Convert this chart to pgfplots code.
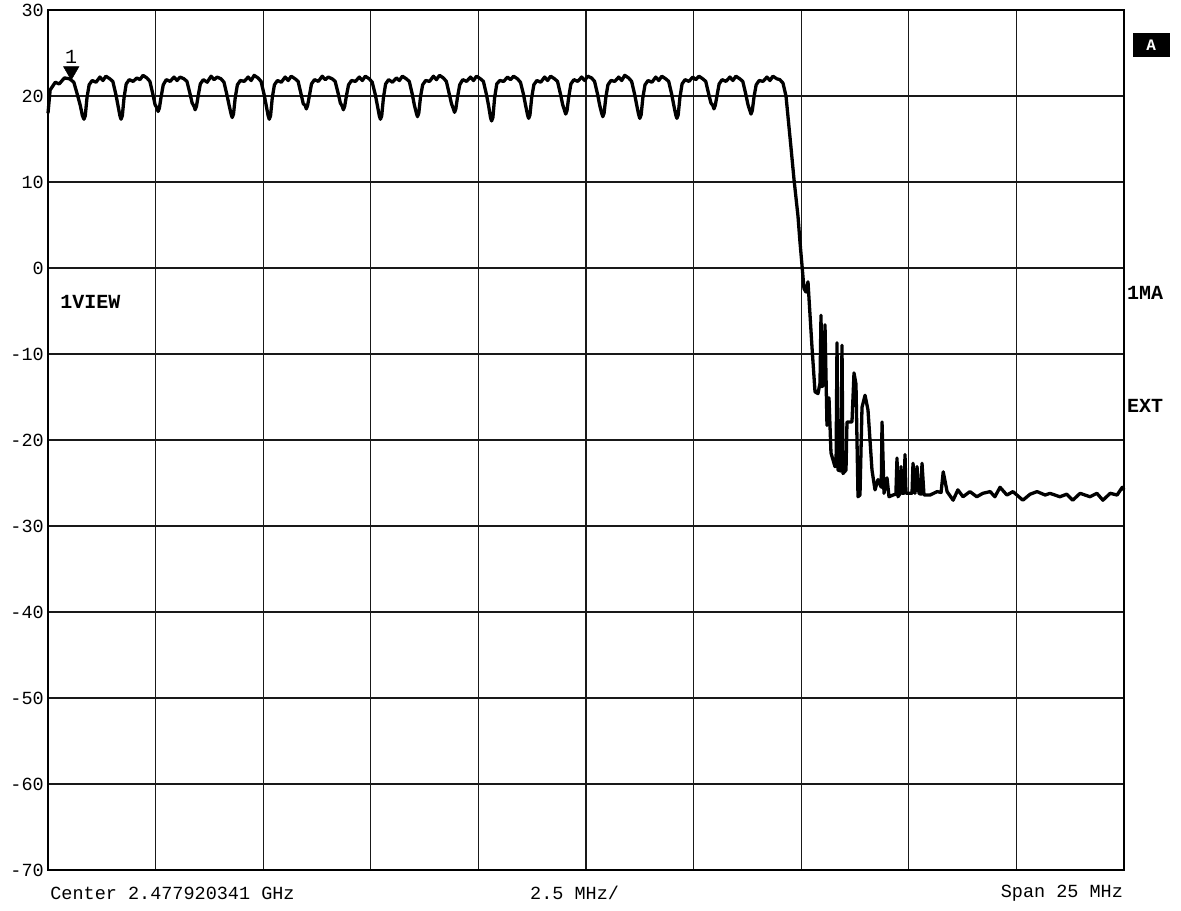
\documentclass[border=0pt]{standalone}
\usepackage{pgfplots}
\pgfplotsset{compat=1.18}
\usepackage{fontspec}
\setmainfont{Liberation Mono}
\newcommand{\tickfont}{\fontsize{18.5bp}{20bp}\selectfont}
\newcommand{\boldlab}{\fontsize{20bp}{21bp}\selectfont\bfseries}
\begin{document}
\begin{tikzpicture}
\path[use as bounding box] (-48bp,-41bp) rectangle (1133bp,870bp);
\begin{axis}[
  at={(0,0)}, anchor=south west,
  scale only axis, width=1076bp, height=860bp,
  xmin=-12.5, xmax=12.5, ymin=-70, ymax=30,
  xtick={-12.5,-10,-7.5,-5,-2.5,0,2.5,5,7.5,10,12.5}, xticklabels={},
  ytick={-70,-60,-50,-40,-30,-20,-10,0,10,20,30},
  yticklabels={-70,-60,-50,-40,-30,-20,-10,0,10,20,30},
  grid=major, grid style={black!90, line width=1.3bp},
  major tick length=0pt,
  axis line style={line width=2.6bp},
  yticklabel style={font=\tickfont, inner sep=0pt, xshift=-4bp},
  clip=false,
]
\addplot[black, line width=3.3bp, line join=round] coordinates {
(-12.5,18.0) (-12.45,20.7) (-12.33,21.6) (-12.24,21.4) (-12.12,22.1) (-12.0,22.0) (-11.9,21.6) (-11.82,20.2) (-11.75,18.9) (-11.70,17.7)
(-11.664,17.3) (-11.634,17.7) (-11.594,19.8) (-11.544,21.3) (-11.474,21.8) (-11.384,21.6) (-11.294,22.2) (-11.224,21.8) (-11.154,22.3) (-11.064,22.0) (-10.994,21.7) (-10.924,20.2) (-10.874,18.9) (-10.829,17.7)
(-10.803,17.3) (-10.773,17.7) (-10.733,19.8) (-10.683,21.4) (-10.613,21.9) (-10.523,21.7) (-10.433,22.1) (-10.363,21.9) (-10.293,22.4) (-10.203,22.1) (-10.133,21.7) (-10.063,20.2) (-10.013,19.0) (-9.968,18.6)
(-9.942,18.2) (-9.912,18.6) (-9.872,19.9) (-9.822,21.3) (-9.752,21.9) (-9.662,21.7) (-9.572,22.2) (-9.502,21.8) (-9.432,22.2) (-9.342,22.0) (-9.272,21.7) (-9.202,20.3) (-9.152,19.2) (-9.107,18.8)
(-9.081,18.4) (-9.051,18.8) (-9.011,20.0) (-8.961,21.4) (-8.891,21.9) (-8.801,21.6) (-8.711,22.3) (-8.641,21.9) (-8.571,22.2) (-8.481,22.0) (-8.411,21.6) (-8.341,20.1) (-8.291,18.9) (-8.246,17.9)
(-8.220,17.5) (-8.190,17.9) (-8.150,19.8) (-8.100,21.3) (-8.030,21.8) (-7.940,21.7) (-7.850,22.2) (-7.780,21.8) (-7.710,22.4) (-7.620,22.1) (-7.550,21.7) (-7.480,20.2) (-7.430,18.9) (-7.385,17.7)
(-7.359,17.3) (-7.329,17.7) (-7.289,19.8) (-7.239,21.3) (-7.169,21.8) (-7.079,21.6) (-6.989,22.2) (-6.919,21.8) (-6.849,22.3) (-6.759,22.0) (-6.689,21.7) (-6.619,20.2) (-6.569,19.1) (-6.524,18.9)
(-6.498,18.5) (-6.468,18.9) (-6.428,20.0) (-6.378,21.4) (-6.308,21.9) (-6.218,21.7) (-6.128,22.3) (-6.058,21.9) (-5.988,22.2) (-5.898,22.0) (-5.828,21.7) (-5.758,20.3) (-5.708,19.2) (-5.663,18.8)
(-5.637,18.4) (-5.607,18.8) (-5.567,20.0) (-5.517,21.3) (-5.447,21.8) (-5.357,21.7) (-5.267,22.2) (-5.197,21.8) (-5.127,22.3) (-5.037,22.0) (-4.967,21.6) (-4.897,20.2) (-4.847,18.9) (-4.802,17.7)
(-4.776,17.3) (-4.746,17.7) (-4.706,19.8) (-4.656,21.4) (-4.586,21.9) (-4.496,21.6) (-4.406,22.1) (-4.336,21.8) (-4.266,22.3) (-4.176,22.0) (-4.106,21.7) (-4.036,20.2) (-3.986,18.9) (-3.941,18.0)
(-3.915,17.6) (-3.885,18.0) (-3.845,19.9) (-3.795,21.3) (-3.725,21.8) (-3.635,21.7) (-3.545,22.3) (-3.475,21.9) (-3.405,22.4) (-3.315,22.1) (-3.245,21.7) (-3.175,20.2) (-3.125,19.1) (-3.080,18.5)
(-3.054,18.1) (-3.024,18.5) (-2.984,19.9) (-2.934,21.3) (-2.864,21.9) (-2.774,21.7) (-2.684,22.2) (-2.614,21.8) (-2.544,22.3) (-2.454,22.0) (-2.384,21.7) (-2.314,20.2) (-2.264,18.9) (-2.219,17.5)
(-2.193,17.1) (-2.163,17.5) (-2.123,19.8) (-2.073,21.4) (-2.003,21.8) (-1.913,21.7) (-1.823,22.2) (-1.753,21.9) (-1.683,22.3) (-1.593,22.0) (-1.523,21.6) (-1.453,20.2) (-1.403,18.9) (-1.358,17.8)
(-1.332,17.4) (-1.302,17.8) (-1.262,19.8) (-1.212,21.3) (-1.142,21.8) (-1.052,21.6) (-0.962,22.2) (-0.892,21.8) (-0.822,22.3) (-0.732,22.0) (-0.662,21.7) (-0.592,20.2) (-0.542,19.0) (-0.497,18.3)
(-0.471,17.9) (-0.441,18.3) (-0.401,19.9) (-0.351,21.4) (-0.281,21.9) (-0.191,21.7) (-0.101,22.2) (-0.031,21.8) (0.039,22.3) (0.129,22.1) (0.199,21.7) (0.269,20.2) (0.319,18.9) (0.364,18.0)
(0.390,17.6) (0.420,18.0) (0.460,19.8) (0.510,21.3) (0.580,21.8) (0.670,21.7) (0.760,22.2) (0.830,21.8) (0.900,22.4) (0.990,22.1) (1.060,21.7) (1.130,20.2) (1.180,18.9) (1.225,17.8)
(1.251,17.4) (1.281,17.8) (1.321,19.8) (1.371,21.3) (1.441,21.8) (1.531,21.6) (1.621,22.2) (1.691,21.8) (1.761,22.3) (1.851,22.0) (1.921,21.7) (1.991,20.2) (2.041,18.9) (2.086,17.8)
(2.112,17.4) (2.142,17.8) (2.182,19.8) (2.232,21.4) (2.302,21.9) (2.392,21.7) (2.482,22.2) (2.552,21.9) (2.622,22.3) (2.712,22.0) (2.782,21.7) (2.852,20.2) (2.902,19.2) (2.947,18.9)
(2.973,18.5) (3.003,18.9) (3.043,20.0) (3.093,21.4) (3.163,21.9) (3.253,21.7) (3.343,22.2) (3.413,21.8) (3.483,22.3) (3.573,22.0) (3.643,21.7) (3.713,20.2) (3.763,19.0) (3.808,18.3)
(3.834,17.9) (3.864,18.3) (3.904,19.9) (3.954,21.3) (4.024,21.8) (4.114,21.7) (4.204,22.2) (4.274,21.8) (4.344,22.3) (4.434,22.0) (4.504,21.9)
(4.577,21.5) (4.647,20.0) (4.763,14.0) (4.833,10.3) (4.926,6.0) (4.972,3.0) (5.019,0.3) (5.065,-2.4) (5.112,-2.8) (5.158,-1.6) (5.181,-3.5)
(5.251,-9.2) (5.321,-14.4) (5.390,-14.6) (5.437,-13.4) (5.460,-5.5) (5.483,-13.8) (5.530,-13.5) (5.553,-6.6) (5.599,-18.3) (5.646,-15.1)
(5.692,-21.5) (5.785,-23.1) (5.81,-23.0) (5.832,-8.7) (5.855,-23.5) (5.92,-23.6) (5.948,-9.0) (5.971,-23.9) (6.041,-23.5) (6.064,-17.9)
(6.180,-17.9) (6.227,-12.2) (6.273,-13.5) (6.320,-26.6) (6.366,-26.4) (6.413,-16.2) (6.483,-14.8) (6.552,-16.5) (6.645,-23.5) (6.715,-25.8)
(6.785,-24.6) (6.86,-25.5) (6.878,-17.9) (6.924,-26.2) (6.994,-24.4) (7.040,-26.6) (7.133,-26.4) (7.20,-26.3) (7.226,-22.1) (7.249,-26.6) (7.30,-26.2) (7.319,-23.1)
(7.342,-26.2) (7.39,-26.2) (7.412,-21.7) (7.435,-26.2) (7.528,-26.2) (7.575,-26.2) (7.598,-22.7) (7.644,-26.2) (7.691,-23.1) (7.737,-26.2) (7.78,-26.3) (7.807,-22.7) (7.853,-26.4)
(7.993,-26.4) (8.16,-26.0) (8.25,-26.1) (8.30,-23.7) (8.39,-26.0) (8.53,-27.0) (8.64,-25.8) (8.76,-26.6) (8.92,-26.0) (9.08,-26.6) (9.22,-26.2)
(9.39,-26.0) (9.50,-26.6) (9.62,-25.5) (9.78,-26.4) (9.92,-26.0) (10.15,-27.0) (10.32,-26.3) (10.48,-26.0) (10.67,-26.4) (10.78,-26.2) (11.01,-26.6)
(11.17,-26.3) (11.31,-27.0) (11.48,-26.2) (11.71,-26.6) (11.87,-26.2) (12.01,-27.0) (12.18,-26.2) (12.34,-26.4) (12.46,-25.5) (12.5,-25.8)
};
\addplot[only marks, mark=triangle*, mark size=9bp, mark options={rotate=180, fill=black, draw=black}] coordinates {(-11.96,22.9)};
\node[font=\fontsize{20bp}{20bp}\selectfont] at (axis cs:-11.96,24.6) {1};
\node[font=\boldlab, anchor=west, inner sep=0pt] at (axis cs:-12.22,-3.95) {1VIEW};
\node[font=\boldlab, anchor=west, inner sep=0pt] at (axis cs:12.57,-2.9) {1MA};
\node[font=\boldlab, anchor=west, inner sep=0pt] at (axis cs:12.57,-16.05) {EXT};
\node[fill=black, text=white, font=\fontsize{16bp}{16bp}\selectfont\bfseries, minimum width=37bp, minimum height=24bp, inner sep=0pt] at (axis cs:13.13,25.93) {A};
\node[font=\tickfont, anchor=west, inner sep=0pt] at (axis cs:-12.45,-72.67) {Center 2.477920341 GHz};
\node[font=\tickfont, anchor=west, inner sep=0pt] at (axis cs:-1.30,-72.67) {2.5 MHz/};
\node[font=\tickfont, anchor=east, inner sep=0pt] at (axis cs:12.48,-72.67) {Span 25 MHz};
\end{axis}
\end{tikzpicture}
\end{document}
